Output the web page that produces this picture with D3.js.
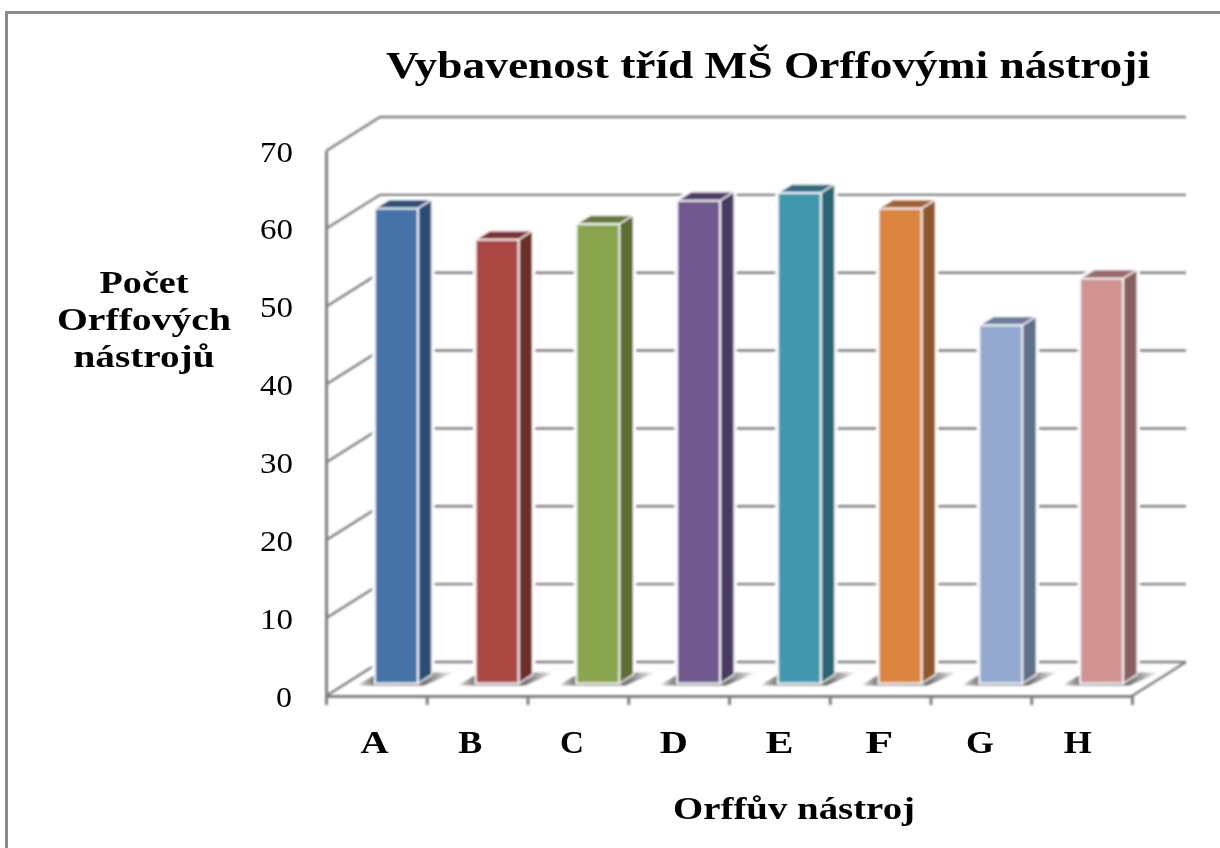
<!DOCTYPE html>
<html><head><meta charset="utf-8">
<script src="https://cdn.jsdelivr.net/npm/d3@7"></script>
<style>html,body{margin:0;padding:0;background:#fff;overflow:hidden}svg{display:block}
text{font-family:"Liberation Serif",serif;fill:#000}</style></head><body>
<div id="c"></div>
<script>
const categories=["A","B","C","D","E","F","G","H"];
const values=[61,57,59,62,63,61,46,52];
const frontColors=["#4572a7","#aa4643","#89a54e","#71588f","#4198af","#db843d","#93a9cf","#d19392"];
const sideColors=["#2c4d75","#6f2d2b","#5b6e33","#493a5e","#2a6575","#90582a","#5f6f8a","#896161"];
const topColors=["#2f5079","#7d3230","#657a38","#4f3e68","#2e6e80","#a0612d","#6a7d9c","#9a6968"];
const yTicks=[0,10,20,30,40,50,60,70];
const titleText="Vybavenost tříd MŠ Orffovými nástroji";
const yTitleLines=["Počet","Orffových","nástrojů"];
const xTitleText="Orffův nástroj";

const W=1220,H=848;
const svg=d3.select("#c").append("svg").attr("width",W).attr("height",H);
const defs=svg.append("defs");
defs.append("filter").attr("id","soft").attr("filterUnits","userSpaceOnUse").attr("x",0).attr("y",0).attr("width",W).attr("height",H)
  .append("feGaussianBlur").attr("stdDeviation",0.8);
defs.append("filter").attr("id","softT").attr("filterUnits","userSpaceOnUse").attr("x",0).attr("y",0).attr("width",W).attr("height",H)
  .append("feGaussianBlur").attr("stdDeviation",0.6);
const grad=defs.append("linearGradient").attr("id","shadowGrad");
[[0,"#fff"],[0.07,"#bbb"],[0.17,"#7c7c7c"],[0.6,"#666"],[0.72,"#777"],[0.87,"#bbb"],[1,"#fff"]].forEach(([o,c])=>grad.append("stop").attr("offset",o).attr("stop-color",c));

// scales: front plane of the chart box + depth projection
const x=d3.scaleBand().domain(categories).range([326,1132]).paddingInner(0).paddingOuter(0);
const y=d3.scaleLinear().domain([0,70]).range([696,151]);
const dx=d3.scaleLinear().domain([0,1]).range([0,54]);
const dy=d3.scaleLinear().domain([0,1]).range([0,-34]);
const barW=43, depthA=0.37, depthB=0.63;
const pt=(px,py,d)=>[px+dx(d),py+dy(d)];
const poly=a=>a.map(p=>p.join(",")).join(" ");

// outer frame (left and top edges only are on the page)
svg.append("rect").attr("x",6.5).attr("y",12.5).attr("width",1400).attr("height",1200)
  .attr("fill","none").attr("stroke","#8a8a8a").attr("stroke-width",3);

const chart=svg.append("g").attr("filter","url(#soft)");
const grid="#808080";
const x0=x.range()[0],x1=x.range()[1];

// gridlines on the left and back walls
const gridG=chart.append("g");
gridG.selectAll("polyline.g").data(yTicks).join("polyline").attr("class","g")
  .attr("points",d=>poly([[x0,y(d)],pt(x0,y(d),1),pt(x1,y(d),1)]))
  .attr("fill","none").attr("stroke",grid).attr("stroke-width",2.4);
gridG.append("line").attr("x1",x1).attr("y1",y(0)).attr("x2",x1+dx(1)).attr("y2",y(0)+dy(1))
  .attr("stroke",grid).attr("stroke-width",2.4);

// front axes
const yAxis=d3.axisLeft(y).tickValues(yTicks).tickSize(0).tickFormat("");
const ya=chart.append("g").attr("transform",`translate(${x0},0)`).call(yAxis);
ya.select(".domain").attr("stroke",grid).attr("stroke-width",3);
const edges=[...categories.map(c=>x(c)),x1];
const tx=d3.scaleLinear().domain([x0,x1]).range([x0,x1]);
const xAxis=d3.axisBottom(tx).tickValues(edges).tickSize(9).tickSizeOuter(9).tickFormat("");
const xa=chart.append("g").attr("transform",`translate(0,${y(0)})`).call(xAxis);
xa.select(".domain").attr("stroke",grid).attr("stroke-width",3);
xa.selectAll(".tick line").attr("stroke",grid).attr("stroke-width",3);

// bars
const bars=chart.selectAll("g.bar").data(categories).join("g").attr("class","bar");
const fx=c=>x(c)+x.bandwidth()/2-barW/2+dx(depthA);
const by0=y(0)+dy(depthA);
const byv=(i)=>y(values[i])+dy(depthA);
const sx=dx(depthB-depthA), sy=dy(depthB-depthA);

// white halo around each bar
bars.append("polygon")
  .attr("points",(c,i)=>{const l=fx(c),t=byv(i);return poly([[l,by0],[l,t],[l+sx,t+sy],[l+barW+sx,t+sy],[l+barW+sx,by0+sy],[l+barW,by0]]);})
  .attr("fill","#fff").attr("stroke","#fff").attr("stroke-width",5).attr("stroke-linejoin","round");
bars.append("polygon")
  .attr("points",c=>{const l=fx(c);return poly([[l-18,by0+2],[l+4,by0-11],[l+barW+36,by0-11],[l+barW+6,by0+2]]);})
  .attr("fill","url(#shadowGrad)");
bars.append("polygon").attr("class","top")
  .attr("points",(c,i)=>{const l=fx(c),t=byv(i);return poly([[l,t],[l+sx,t+sy],[l+barW+sx,t+sy],[l+barW,t]]);})
  .attr("fill",(c,i)=>topColors[i]).attr("stroke","#fff").attr("stroke-width",1.2);
bars.append("polygon").attr("class","side")
  .attr("points",(c,i)=>{const l=fx(c)+barW,t=byv(i);return poly([[l,t],[l+sx,t+sy],[l+sx,by0+sy],[l,by0]]);})
  .attr("fill",(c,i)=>sideColors[i]).attr("stroke","#fff").attr("stroke-width",1.2);
bars.append("rect").attr("class","front")
  .attr("x",c=>fx(c)).attr("y",(c,i)=>byv(i)).attr("width",barW).attr("height",(c,i)=>by0-byv(i))
  .attr("fill",(c,i)=>frontColors[i]).attr("stroke","#f4f6fa").attr("stroke-width",2);

// text
const txt=svg.append("g").attr("filter","url(#softT)");
function label(s,cx,base,size,len,weight){
  return txt.append("text").text(s).attr("x",cx).attr("y",base).attr("text-anchor","middle")
    .attr("font-size",size).attr("font-weight",weight)
    .attr("textLength",len).attr("lengthAdjust","spacingAndGlyphs");
}
label(titleText,768,78,38,764,"bold");
const yTitleY=[293,330,367], yTitleLen=[89,174,141];
yTitleLines.forEach((s,i)=>label(s,144,yTitleY[i],31,yTitleLen[i],"bold"));
label(xTitleText,794,819,31,242,"bold");
const catNudge=[-2,-7,-6,-5,0,-1,-1,-4];
categories.forEach((c,i)=>label(c,x(c)+x.bandwidth()/2+catNudge[i],753,32,c==="A"?28:(c==="B"||c==="C"?24:28),"bold"));
yTicks.forEach(v=>label(String(v),v===0?284:276.5,y(v)+10.5,29,v===0?16:33,"normal"));
</script></body></html>
